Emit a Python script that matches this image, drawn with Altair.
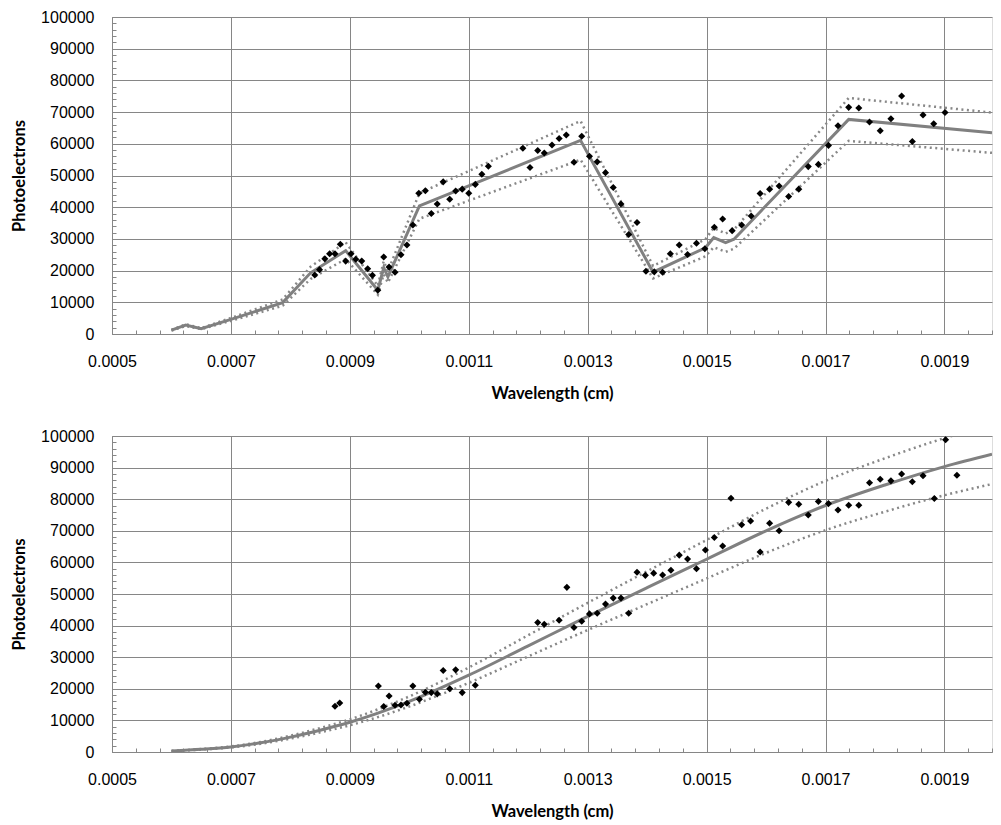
import altair as alt
import pandas as pd

# ---------------- data ----------------
# Panel 1: measured points
p1_x = [0.000841, 0.000849, 0.000858, 0.000866, 0.000875, 0.000884, 0.000893, 0.000902, 0.000910, 0.000920,
        0.000930, 0.000938, 0.000947, 0.000957, 0.000966, 0.000976, 0.000986, 0.000996, 0.001006, 0.001016,
        0.001027, 0.001037, 0.001047, 0.001057, 0.001068, 0.001078, 0.001089, 0.001100, 0.001111, 0.001122,
        0.001133,
        0.001191, 0.001203, 0.001216, 0.001227, 0.001240, 0.001252, 0.001264, 0.001277, 0.001290, 0.001303,
        0.001316, 0.001330, 0.001343, 0.001356, 0.001369, 0.001383, 0.001398, 0.001412, 0.001426, 0.001439,
        0.001454, 0.001468, 0.001483, 0.001497, 0.001513, 0.001527, 0.001543,
        0.001559, 0.001575, 0.001590, 0.001606, 0.001622, 0.001638, 0.001655, 0.001671, 0.001688, 0.001705,
        0.001721, 0.001739, 0.001756, 0.001774, 0.001792, 0.001810, 0.001828, 0.001846, 0.001864, 0.001882,
        0.001901]
p1_y = [18600, 20300, 23700, 25300, 25300, 28300, 23000, 25300, 23600, 23000,
        20600, 18500, 13800, 24300, 21100, 19500, 25000, 28100, 34400, 44400,
        45200, 38000, 41000, 48000, 42500, 45100, 45700, 44400, 47200, 50400,
        52900,
        58600, 52500, 57900, 57100, 59600, 61700, 62800, 54200, 62400, 56100,
        54300, 50900, 46200, 41000, 31400, 35200, 19800, 19600, 19500, 25300,
        28100, 25100, 28600, 26900, 33700, 36300, 32600,
        34400, 37200, 44300, 45700, 46700, 43400, 45700, 52800, 53500, 59500,
        65700, 71500, 71300, 66900, 64100, 67900, 75100, 60700, 69100, 66300,
        69900]

# Panel 1: model curve and its dotted bounds
m1_x = [0.000600, 0.000624, 0.000650, 0.000700, 0.000787, 0.000834, 0.000893, 0.000947, 0.000957, 0.000964,
        0.001017, 0.001288, 0.001410, 0.001498, 0.001512, 0.001532, 0.001546, 0.001739, 0.001980]
m1_y = [1200, 2800, 1700, 4600, 9900, 19300, 26300, 13800, 20900, 18000,
        40400, 61100, 19500, 27200, 30400, 28800, 29900, 67700, 63500]
u1_y = [1320, 3080, 1870, 5060, 10890, 21230, 28930, 15180, 22990, 19800,
        44440, 67210, 21450, 29920, 33440, 31680, 32890, 74470, 69850]
l1_y = [1080, 2520, 1530, 4140, 8910, 17370, 23670, 12420, 18810, 16200,
        36360, 54990, 17550, 24480, 27360, 25920, 26910, 60930, 57150]

# Panel 2: measured points
p2_x = [0.000875, 0.000883, 0.000948, 0.000957, 0.000966, 0.000976, 0.000986, 0.000996, 0.001006, 0.001017,
        0.001027, 0.001037, 0.001047, 0.001057, 0.001068, 0.001078, 0.001089, 0.001111,
        0.001216, 0.001227, 0.001252, 0.001265, 0.001277, 0.001290, 0.001303, 0.001316, 0.001330, 0.001343,
        0.001356, 0.001369, 0.001383, 0.001397, 0.001411, 0.001426, 0.001440, 0.001454, 0.001468, 0.001483,
        0.001498, 0.001513, 0.001527, 0.001541,
        0.001559, 0.001574, 0.001590, 0.001606, 0.001622, 0.001638, 0.001655, 0.001671, 0.001688, 0.001705,
        0.001721, 0.001739, 0.001756, 0.001774, 0.001792, 0.001810, 0.001828, 0.001846, 0.001864, 0.001883,
        0.001902, 0.001921]
p2_y = [14500, 15500, 20900, 14400, 17700, 14800, 14900, 15400, 20900, 16700,
        18900, 18800, 18400, 25800, 20000, 26000, 18800, 21100,
        41000, 40400, 41700, 52100, 39400, 41400, 43700, 43900, 46800, 48700,
        48700, 43900, 56900, 55900, 56600, 56000, 57500, 62300, 61100, 58000,
        63900, 67900, 65200, 80300,
        71900, 73100, 63300, 72400, 70000, 79000, 78400, 75000, 79300, 78600,
        76600, 78100, 78100, 85200, 86300, 85800, 88000, 85500, 87400, 80200,
        98800, 87600]

# Panel 2: model curve and its dotted bounds
m2_x = [0.00060, 0.00065, 0.00070, 0.00075, 0.00080, 0.00085, 0.00090, 0.00100, 0.00110, 0.00120,
        0.00130, 0.00140, 0.00150, 0.00160, 0.00170, 0.00180, 0.00190, 0.00198]
m2_y = [300, 850, 1600, 2900, 4700, 6900, 9400, 16000, 24300, 33600,
        42900, 52000, 61000, 70000, 78000, 84500, 90300, 94200]
u2_y = [330, 935, 1760, 3190, 5170, 7590, 10340, 17600, 26730, 36960,
        47190, 57200, 67100, 77000, 85800, 92950, 99330, 103620]
l2_y = [270, 765, 1440, 2610, 4230, 6210, 8460, 14400, 21870, 30240,
        38610, 46800, 54900, 63000, 70200, 76050, 81270, 84780]

# axis tick values
X_MAJOR = [0.0005, 0.0007, 0.0009, 0.0011, 0.0013, 0.0015, 0.0017, 0.0019]
X_MINOR = [round(0.0005 + 0.00004 * k, 6) for k in range(38)]
Y_MAJOR = list(range(0, 100001, 10000))
Y_MINOR = list(range(0, 100001, 2000))

# ---------------- style ----------------
W = 880
GRID = "#868686"
LINE = "#808080"
DOT = "#888888"


def panel(px, py, mx, my, uy, ly, interp, h):
    xs = alt.Scale(domain=[0.0005, 0.00198], nice=False, zero=False)
    ys = alt.Scale(domain=[0, 100000], nice=False)

    major_x = alt.Axis(values=X_MAJOR, format=".4f", grid=True, gridColor=GRID, gridWidth=1,
                       domainColor=GRID, domainWidth=1, ticks=False, tickSize=0,
                       labelFont="Liberation Sans", labelFontSize=16, labelColor="black",
                       labelPadding=19, labelFlush=False,
                       title="Wavelength (cm)", titleFont="Lato", titleFontSize=16.5,
                       titleFontWeight="bold", titleColor="black", titlePadding=16)
    major_y = alt.Axis(values=Y_MAJOR, format="d", grid=True, gridColor=GRID, gridWidth=1,
                       domainColor=GRID, domainWidth=1, ticks=False, tickSize=0,
                       labelFont="Liberation Sans", labelFontSize=16, labelColor="black",
                       labelPadding=18, labelFlush=False,
                       title="Photoelectrons", titleFont="Lato", titleFontSize=16.5,
                       titleFontWeight="bold", titleColor="black",
                       titleX=-93, titleBaseline="middle")
    minor_x = alt.Axis(orient="top", offset=-h, values=X_MINOR, labels=False, grid=False,
                       domain=False, ticks=True, tickSize=4, tickColor=GRID, tickWidth=1,
                       title=None)
    minor_y = alt.Axis(orient="right", offset=-W, values=Y_MINOR, labels=False, grid=False,
                       domain=False, ticks=True, tickSize=4, tickColor=GRID, tickWidth=1,
                       title=None)

    df_p = pd.DataFrame({"x": px, "y": py})
    df_m = pd.DataFrame({"x": mx, "y": my})
    df_u = pd.DataFrame({"x": mx, "y": uy})
    df_l = pd.DataFrame({"x": mx, "y": ly})

    upper = alt.Chart(df_u).mark_line(color=DOT, strokeWidth=2.5, strokeDash=[2, 3.5],
                                      interpolate=interp, clip=True).encode(
        x=alt.X("x:Q", scale=xs, axis=minor_x),
        y=alt.Y("y:Q", scale=ys, axis=minor_y))
    lower = alt.Chart(df_l).mark_line(color=DOT, strokeWidth=2.5, strokeDash=[2, 3.5],
                                      interpolate=interp, clip=True).encode(
        x=alt.X("x:Q", scale=xs, axis=None),
        y=alt.Y("y:Q", scale=ys, axis=None))
    model = alt.Chart(df_m).mark_line(color=LINE, strokeWidth=3, interpolate=interp,
                                      clip=True).encode(
        x=alt.X("x:Q", scale=xs, axis=None),
        y=alt.Y("y:Q", scale=ys, axis=None))
    pts = alt.Chart(df_p).mark_point(shape="diamond", filled=True, color="black",
                                     size=50, opacity=1).encode(
        x=alt.X("x:Q", scale=xs, axis=major_x),
        y=alt.Y("y:Q", scale=ys, axis=major_y))

    return alt.layer(upper, lower, model, pts).resolve_axis(
        x="independent", y="independent").properties(width=W, height=h)


top = panel(p1_x, p1_y, m1_x, m1_y, u1_y, l1_y, "linear", 317)
bottom = panel(p2_x, p2_y, m2_x, m2_y, u2_y, l2_y, "monotone", 316)

chart = alt.vconcat(top, bottom, spacing=25).properties(
    padding={"left": 2, "top": 0, "right": 0, "bottom": 0}
).configure_view(stroke=None).configure(background="white")

chart.save("out.html", embed_options={"renderer": "svg", "actions": False})
